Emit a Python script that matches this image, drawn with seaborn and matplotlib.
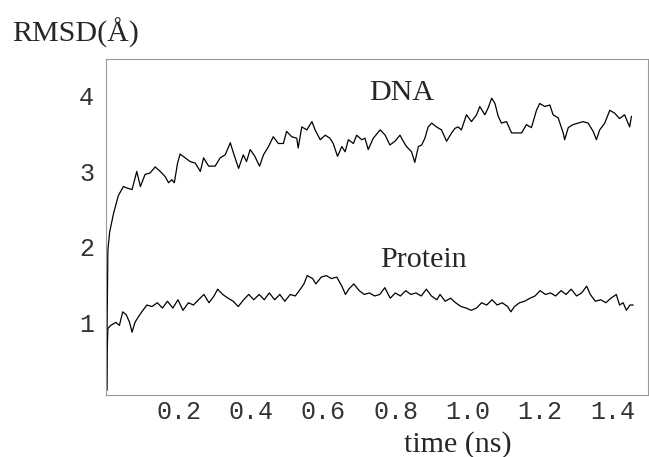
import pandas as pd
import matplotlib
matplotlib.use('Agg')
import matplotlib.pyplot as plt
import seaborn as sns

# RMSD trajectories (time in ns, RMSD in Angstrom)
dna_time = [0.0, 0.001, 0.003, 0.008, 0.019, 0.032, 0.046, 0.056, 0.070, 0.083,
            0.093, 0.106, 0.120, 0.134, 0.148, 0.162, 0.171, 0.180, 0.187, 0.196,
            0.203, 0.217, 0.231, 0.245, 0.259, 0.268, 0.282, 0.300, 0.314, 0.328,
            0.342, 0.351, 0.365, 0.378, 0.387, 0.397, 0.410, 0.423, 0.434, 0.448,
            0.461, 0.475, 0.489, 0.498, 0.512, 0.526, 0.530, 0.540, 0.554, 0.568,
            0.577, 0.591, 0.605, 0.618, 0.627, 0.639, 0.651, 0.660, 0.669, 0.683,
            0.692, 0.706, 0.715, 0.724, 0.738, 0.757, 0.771, 0.784, 0.798, 0.812,
            0.821, 0.830, 0.844, 0.853, 0.863, 0.872, 0.881, 0.890, 0.900, 0.913,
            0.927, 0.941, 0.955, 0.964, 0.973, 0.982, 0.996, 1.010, 1.024, 1.033,
            1.047, 1.056, 1.066, 1.075, 1.084, 1.093, 1.107, 1.121, 1.135, 1.149,
            1.162, 1.176, 1.190, 1.199, 1.213, 1.227, 1.236, 1.250, 1.264, 1.268,
            1.278, 1.291, 1.305, 1.319, 1.333, 1.347, 1.356, 1.365, 1.379, 1.393,
            1.407, 1.420, 1.434, 1.448, 1.453]
dna_rmsd = [0.10, 1.00, 1.96, 2.20, 2.45, 2.68, 2.80, 2.78, 2.76, 3.00,
            2.80, 2.96, 2.98, 3.06, 3.00, 2.93, 2.85, 2.89, 2.85, 3.11,
            3.23, 3.18, 3.13, 3.11, 3.00, 3.18, 3.07, 3.07, 3.18, 3.22,
            3.38, 3.24, 3.04, 3.22, 3.13, 3.29, 3.20, 3.07, 3.22, 3.33,
            3.46, 3.37, 3.37, 3.53, 3.46, 3.44, 3.31, 3.59, 3.55, 3.66,
            3.55, 3.42, 3.48, 3.44, 3.37, 3.20, 3.33, 3.26, 3.42, 3.37,
            3.48, 3.42, 3.44, 3.29, 3.44, 3.55, 3.48, 3.35, 3.40, 3.48,
            3.40, 3.33, 3.26, 3.12, 3.33, 3.35, 3.44, 3.59, 3.64, 3.59,
            3.55, 3.40, 3.51, 3.57, 3.59, 3.55, 3.75, 3.66, 3.75, 3.86,
            3.75, 3.84, 3.97, 3.90, 3.73, 3.64, 3.66, 3.51, 3.51, 3.51,
            3.62, 3.58, 3.81, 3.90, 3.86, 3.88, 3.75, 3.71, 3.51, 3.42,
            3.58, 3.62, 3.64, 3.66, 3.64, 3.53, 3.42, 3.55, 3.64, 3.81,
            3.77, 3.70, 3.75, 3.59, 3.73]

protein_time = [0.0, 0.001, 0.003, 0.011, 0.025, 0.035, 0.044, 0.054, 0.063, 0.070,
                0.078, 0.087, 0.097, 0.111, 0.125, 0.140, 0.154, 0.168, 0.183, 0.197,
                0.211, 0.226, 0.240, 0.254, 0.269, 0.283, 0.297, 0.307, 0.321, 0.336,
                0.350, 0.364, 0.379, 0.393, 0.407, 0.422, 0.436, 0.450, 0.465, 0.479,
                0.493, 0.508, 0.522, 0.536, 0.546, 0.555, 0.570, 0.579, 0.594, 0.608,
                0.622, 0.637, 0.651, 0.661, 0.670, 0.684, 0.699, 0.713, 0.727, 0.742,
                0.756, 0.770, 0.785, 0.799, 0.813, 0.828, 0.842, 0.856, 0.871, 0.885,
                0.899, 0.914, 0.923, 0.937, 0.952, 0.966, 0.981, 0.995, 1.009, 1.024,
                1.038, 1.052, 1.067, 1.081, 1.095, 1.110, 1.119, 1.129, 1.143, 1.157,
                1.172, 1.186, 1.200, 1.215, 1.229, 1.243, 1.258, 1.272, 1.286, 1.301,
                1.315, 1.329, 1.339, 1.353, 1.368, 1.382, 1.396, 1.411, 1.420, 1.430,
                1.439, 1.449, 1.458]
protein_rmsd = [0.10, 0.60, 0.92, 0.96, 1.00, 0.96, 1.14, 1.10, 1.00, 0.87,
                1.00, 1.07, 1.14, 1.23, 1.21, 1.26, 1.19, 1.28, 1.19, 1.30,
                1.16, 1.26, 1.23, 1.30, 1.37, 1.26, 1.35, 1.44, 1.37, 1.32,
                1.28, 1.21, 1.30, 1.37, 1.30, 1.37, 1.30, 1.39, 1.30, 1.37,
                1.28, 1.37, 1.35, 1.44, 1.51, 1.62, 1.58, 1.51, 1.60, 1.62,
                1.58, 1.60, 1.48, 1.37, 1.44, 1.51, 1.42, 1.37, 1.39, 1.35,
                1.37, 1.46, 1.32, 1.39, 1.35, 1.42, 1.37, 1.39, 1.35, 1.44,
                1.35, 1.30, 1.37, 1.28, 1.32, 1.26, 1.21, 1.19, 1.16, 1.19,
                1.26, 1.23, 1.30, 1.23, 1.26, 1.21, 1.14, 1.21, 1.26, 1.28,
                1.32, 1.35, 1.42, 1.37, 1.39, 1.35, 1.42, 1.37, 1.44, 1.35,
                1.39, 1.48, 1.37, 1.28, 1.30, 1.26, 1.32, 1.37, 1.23, 1.26,
                1.16, 1.23, 1.23]

x_ticks = [0.2, 0.4, 0.6, 0.8, 1.0, 1.2, 1.4]
y_ticks = [1, 2, 3, 4]

dna_df = pd.DataFrame({'time': dna_time, 'rmsd': dna_rmsd})
protein_df = pd.DataFrame({'time': protein_time, 'rmsd': protein_rmsd})

sns.set_style('white')
serif = 'Liberation Serif'
mono = 'Liberation Mono'

fig = plt.figure(figsize=(6.49, 4.57), dpi=100)
ax = fig.add_axes([0.164, 0.136, 0.834, 0.735])

sns.lineplot(data=dna_df, x='time', y='rmsd', color='black', linewidth=0.9, ax=ax)
sns.lineplot(data=protein_df, x='time', y='rmsd', color='black', linewidth=0.9, ax=ax)

ax.set_xlim(-0.001, 1.498)
ax.set_ylim(0.04, 4.49)
ax.set_xticks(x_ticks)
ax.set_xticklabels([f'{t:.1f}' for t in x_ticks])
ax.set_yticks(y_ticks)
ax.set_xlabel('')
ax.set_ylabel('')

for lab in ax.get_xticklabels() + ax.get_yticklabels():
    lab.set_fontfamily(mono)
    lab.set_fontsize(18)
    lab.set_color('#333333')

ax.tick_params(axis='both', direction='in', length=4, width=0.8, color='#999999')
ax.tick_params(axis='x', pad=4)
ax.tick_params(axis='y', pad=9)

for side in ['left', 'bottom', 'top', 'right']:
    ax.spines[side].set_color('#999999')
    ax.spines[side].set_linewidth(0.8)

# curve labels
ax.text(0.817, 3.95, 'DNA', family=serif, fontsize=21.6, ha='center', va='baseline')
ax.text(0.876, 1.735, 'Protein', family=serif, fontsize=21.6, ha='center', va='baseline')

# axis titles
fig.text(12 / 649, 1 - 42 / 457, 'RMSD(Å)', family=serif, fontsize=21.6,
         ha='left', va='baseline')
fig.text(458 / 649, 1 - 452 / 457, 'time (ns)', family=serif, fontsize=21.6,
         ha='center', va='baseline')

fig.savefig('out.png', dpi=100)
